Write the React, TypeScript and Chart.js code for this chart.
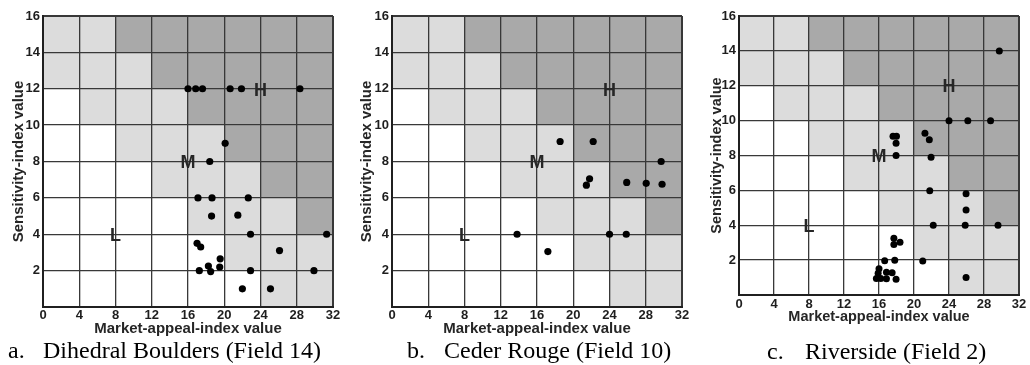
import React, { useEffect, useRef } from "react";
import { Chart, registerables } from "chart.js";

Chart.register(...registerables);

// ---------- data ----------
const xTickValues = [0, 4, 8, 12, 16, 20, 24, 28, 32];
const yTickValues = [0, 2, 4, 6, 8, 10, 12, 14, 16];

// shading matrix (rows from top y=16..14 down to y=2..0; cols x=0..4 .. 28..32)
// 0 = white, 1 = light grey (M), 2 = dark grey (H)
const zoneRow1 = [1, 1, 2, 2, 2, 2, 2, 2];
const zoneRow2 = [1, 1, 1, 2, 2, 2, 2, 2];
const zoneRow3 = [0, 1, 1, 1, 2, 2, 2, 2];
const zoneRow4 = [0, 0, 1, 1, 1, 2, 2, 2];
const zoneRow5 = [0, 0, 0, 1, 1, 1, 2, 2];
const zoneRow6 = [0, 0, 0, 0, 1, 1, 1, 2];
const zoneRow7 = [0, 0, 0, 0, 0, 1, 1, 1];
const zoneRow8 = [0, 0, 0, 0, 0, 0, 1, 1];
const zoneRows = [zoneRow1, zoneRow2, zoneRow3, zoneRow4, zoneRow5, zoneRow6, zoneRow7, zoneRow8];

const zoneLabels = ["L", "M", "H"];
const zoneLabelX = [8, 16, 24];
const zoneLabelY = [3.9, 7.9, 11.9];

const xAxisTitle = "Market-appeal-index value";
const yAxisTitle = "Sensitivity-index value";

// a. Dihedral Boulders (Field 14)
const dihedralX = [16, 16.85, 17.6, 20.65, 21.9, 28.35, 20.1, 18.4, 17.1, 18.65, 22.65, 18.6, 21.5, 22.9, 31.3, 17.0, 17.4, 26.1, 19.55, 18.25, 19.5, 17.25, 18.5, 22.9, 29.9, 22.0, 25.1];
const dihedralY = [12, 12, 12, 12, 12, 12, 9, 8, 6, 6, 6, 5, 5.05, 4, 4, 3.5, 3.3, 3.1, 2.65, 2.25, 2.2, 2, 1.95, 2, 2, 1, 1];

// b. Ceder Rouge (Field 10)
const cederX = [18.55, 22.2, 29.7, 21.8, 21.45, 25.9, 28.05, 29.8, 13.8, 24, 25.85, 17.2];
const cederY = [9.1, 9.1, 8, 7.05, 6.7, 6.85, 6.8, 6.75, 4, 4, 4, 3.05];

// c. Riverside (Field 2)
const riversideX = [29.75, 24, 26.15, 28.75, 17.6, 18.0, 17.95, 17.95, 21.25, 21.75, 21.95, 21.8, 25.95, 25.95, 25.85, 22.2, 29.6, 17.7, 18.4, 17.7, 16.65, 17.8, 21.0, 16.0, 15.9, 15.7, 16.2, 16.85, 17.5, 16.85, 17.95, 25.95];
const riversideY = [14, 10, 10, 10, 9.1, 9.1, 8.7, 8.0, 9.27, 8.9, 7.9, 5.98, 5.8, 4.87, 4, 4, 4, 3.25, 3.03, 2.9, 1.97, 2, 1.95, 1.5, 1.25, 0.95, 0.95, 1.3, 1.28, 0.93, 0.9, 1.0];

const captionLetters = ["a.", "b.", "c."];
const captionNames = ["Dihedral Boulders (Field 14)", "Ceder Rouge (Field 10)", "Riverside (Field 2)"];

// ---------- layout / style ----------
const ZONE_COLORS = ["#ffffff", "#dcdcdc", "#a9a9a9"];
const SANS = "'Liberation Sans', Arial, Helvetica, sans-serif";
const SERIF = "'Liberation Serif', 'Times New Roman', Times, serif";

type PanelLayout = {
  left: number;
  width: number;
  height: number;
  padRight: number;
  yAxisWidth: number;
  xAxisHeight: number;
  yTitlePad: number;
  xTickPad: number;
  titleSize: number;
  radius: number;
  capLeft: number;
  capTop: number;
  capLetterWidth: number;
};

const layouts: PanelLayout[] = [
  { left: 0, width: 345, height: 338, padRight: 12, yAxisWidth: 43, xAxisHeight: 31, yTitlePad: 9.7, xTickPad: 0.5, titleSize: 15, radius: 3.6, capLeft: 8, capTop: 338.4, capLetterWidth: 35 },
  { left: 345, width: 345, height: 338, padRight: 8, yAxisWidth: 47, xAxisHeight: 31, yTitlePad: 13, xTickPad: 0.5, titleSize: 15, radius: 3.6, capLeft: 407, capTop: 338.4, capLetterWidth: 37 },
  { left: 690, width: 340, height: 326, padRight: 11, yAxisWidth: 49, xAxisHeight: 31, yTitlePad: 18, xTickPad: 1.8, titleSize: 14.5, radius: 3.5, capLeft: 767, capTop: 339.4, capLetterWidth: 38 },
];

const seriesX = [dihedralX, cederX, riversideX];
const seriesY = [dihedralY, cederY, riversideY];

const zonePlugin = {
  id: "zones",
  beforeDraw(chart: any) {
    const { ctx, scales } = chart;
    const xs = scales.x;
    const ys = scales.y;
    ctx.save();
    zoneRows.forEach((row, ri) => {
      const yTopVal = yTickValues[yTickValues.length - 1 - ri];
      const yBotVal = yTickValues[yTickValues.length - 2 - ri];
      const yTop = ys.getPixelForValue(yTopVal);
      const yBot = ys.getPixelForValue(yBotVal);
      row.forEach((z, ci) => {
        const xl = xs.getPixelForValue(xTickValues[ci]);
        const xr = xs.getPixelForValue(xTickValues[ci + 1]);
        ctx.fillStyle = ZONE_COLORS[z];
        ctx.fillRect(xl, yTop, xr - xl, yBot - yTop);
      });
    });
    ctx.restore();
  },
  afterDraw(chart: any) {
    const { ctx, scales } = chart;
    ctx.save();
    ctx.font = `bold 18px ${SANS}`;
    ctx.fillStyle = "#262626";
    ctx.textAlign = "center";
    ctx.textBaseline = "middle";
    zoneLabels.forEach((lab, i) => {
      ctx.fillText(lab, scales.x.getPixelForValue(zoneLabelX[i]), scales.y.getPixelForValue(zoneLabelY[i]));
    });
    ctx.restore();
  },
};

function Panel({ idx }: { idx: number }) {
  const ref = useRef<HTMLCanvasElement | null>(null);
  const L = layouts[idx];
  useEffect(() => {
    if (!ref.current) return;
    const pts = seriesX[idx].map((x, i) => ({ x, y: seriesY[idx][i] }));
    const xLineWidth = (c: any) => {
      const v = c.tick ? c.tick.value : null;
      return v === 0 || v === 32 ? 2 : 1.3;
    };
    const yLineWidth = (c: any) => {
      const v = c.tick ? c.tick.value : null;
      return v === 0 || v === 16 ? 2 : 1.3;
    };
    const chart = new Chart(ref.current, {
      type: "scatter",
      data: {
        datasets: [
          {
            data: pts,
            backgroundColor: "#000000",
            borderWidth: 0,
            pointRadius: L.radius,
            pointHoverRadius: L.radius,
          },
        ],
      },
      options: {
        responsive: false,
        animation: false,
        events: [],
        layout: { padding: { left: 0, right: L.padRight, top: 16, bottom: 0 } },
        plugins: { legend: { display: false }, tooltip: { enabled: false }, title: { display: false } },
        scales: {
          x: {
            type: "linear",
            min: 0,
            max: 32,
            afterBuildTicks: (s: any) => {
              s.ticks = xTickValues.map((v) => ({ value: v }));
            },
            afterFit: (s: any) => {
              s.height = L.xAxisHeight;
            },
            ticks: {
              padding: L.xTickPad,
              color: "#1e1e1e",
              font: { family: SANS, size: 13, weight: "bold" },
              maxRotation: 0,
              autoSkip: false,
              callback: (v: any) => String(v),
            },
            grid: { color: "#383838", lineWidth: xLineWidth, drawTicks: false },
            border: { display: true, color: "#202020", width: 2 },
            title: {
              display: true,
              text: xAxisTitle,
              color: "#262626",
              font: { family: SANS, size: L.titleSize, weight: "bold" },
              padding: { top: 0, bottom: 0 },
            },
          },
          y: {
            type: "linear",
            min: 0,
            max: 16,
            afterBuildTicks: (s: any) => {
              s.ticks = yTickValues.map((v) => ({ value: v }));
            },
            afterFit: (s: any) => {
              s.width = L.yAxisWidth;
            },
            ticks: {
              padding: 3,
              color: "#1e1e1e",
              font: { family: SANS, size: 13, weight: "bold" },
              autoSkip: false,
              callback: (v: any) => (v === 0 ? "" : String(v)),
            },
            grid: { color: "#383838", lineWidth: yLineWidth, drawTicks: false },
            border: { display: true, color: "#202020", width: 2 },
            title: {
              display: true,
              text: yAxisTitle,
              color: "#262626",
              font: { family: SANS, size: L.titleSize, weight: "bold" },
              padding: { top: L.yTitlePad, bottom: 0 },
            },
          },
        },
      },
      plugins: [zonePlugin],
    } as any);
    return () => chart.destroy();
  }, [idx]);
  return (
    <>
      <canvas
        ref={ref}
        width={L.width}
        height={L.height}
        style={{ position: "absolute", left: L.left, top: 0, width: L.width, height: L.height }}
      />
      <div
        style={{
          position: "absolute",
          left: L.capLeft,
          top: L.capTop,
          fontFamily: SERIF,
          fontSize: 24,
          lineHeight: "24px",
          whiteSpace: "nowrap",
          color: "#000",
        }}
      >
        <span style={{ display: "inline-block", width: L.capLetterWidth }}>{captionLetters[idx]}</span>
        {captionNames[idx]}
      </div>
    </>
  );
}

export default function App() {
  return (
    <div style={{ position: "absolute", left: 0, top: 0, width: 1030, height: 365, background: "#fff", overflow: "hidden" }}>
      <Panel idx={0} />
      <Panel idx={1} />
      <Panel idx={2} />
    </div>
  );
}
